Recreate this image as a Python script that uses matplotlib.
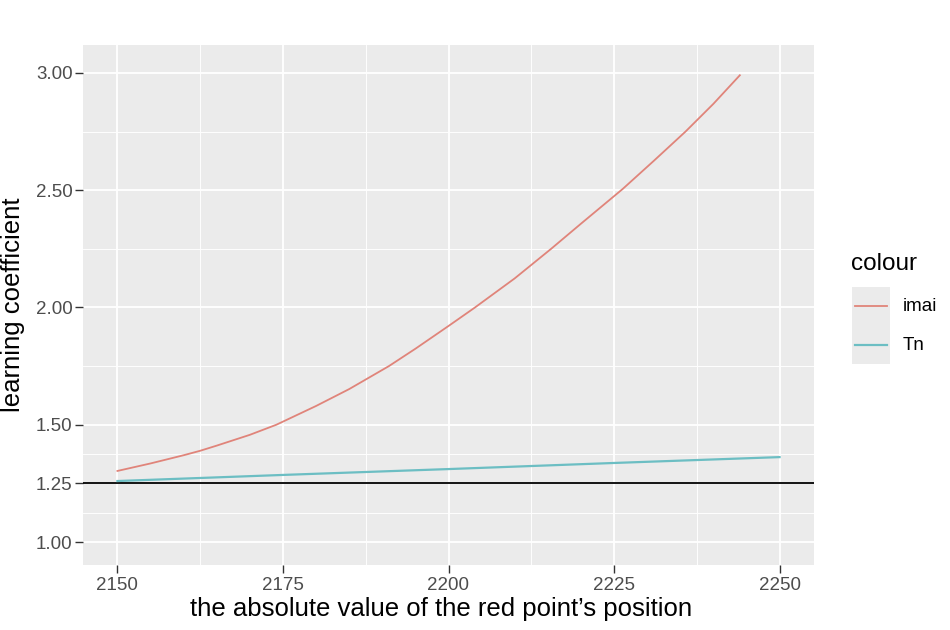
import numpy as np
import matplotlib.pyplot as plt

plt.rcParams['font.family'] = ['Liberation Sans', 'DejaVu Sans']

# imai curve
imai_x = [2150, 2155, 2160, 2162.5, 2165, 2170, 2174, 2180, 2185, 2191,
          2195, 2200, 2204, 2210, 2215.5, 2220, 2226.3, 2231, 2235.8, 2240, 2244]
imai_y = [1.303, 1.335, 1.370, 1.389, 1.411, 1.457, 1.500, 1.580, 1.652, 1.750,
          1.824, 1.921, 2.000, 2.124, 2.250, 2.357, 2.505, 2.625, 2.750, 2.868, 2.990]

# Tn line
tn_x = [2150, 2175, 2200, 2225, 2250]
tn_y = [1.260, 1.286, 1.311, 1.337, 1.362]

ref_level = 1.25
y_ticks = [1.00, 1.25, 1.50, 2.00, 2.50, 3.00]
y_minor = [1.125, 1.375, 1.75, 2.25, 2.75]
x_ticks = [2150, 2175, 2200, 2225, 2250]
x_minor = [2162.5, 2187.5, 2212.5, 2237.5]

imai_col = "#E0847A"
tn_col = "#6CBEC3"

fig = plt.figure(figsize=(9.5, 6.3), dpi=100)
ax = fig.add_axes([83/950, 1 - 565/630, (814 - 83)/950, (565 - 45)/630])
ax.set_facecolor("#EBEBEB")
for s in ax.spines.values():
    s.set_visible(False)

ax.set_xticks(x_ticks)
ax.set_xticks(x_minor, minor=True)
ax.set_yticks(y_ticks)
ax.set_yticks(y_minor, minor=True)
ax.set_yticklabels([f"{v:.2f}" for v in y_ticks])
ax.grid(which="major", color="white", linewidth=1.3)
ax.grid(which="minor", color="white", linewidth=0.65)
ax.set_axisbelow(True)
ax.tick_params(which="major", length=5.5, width=1, color="#333333",
               labelsize=13.5, labelcolor="#4D4D4D")
ax.tick_params(axis="y", pad=2)
ax.tick_params(axis="x", pad=3)
ax.tick_params(which="minor", length=0)

ax.axhline(ref_level, color="black", linewidth=1.3)
ax.plot(imai_x, imai_y, color=imai_col, linewidth=1.3)
ax.plot(tn_x, tn_y, color=tn_col, linewidth=1.6)

ax.set_xlim(2144.8, 2255.2)
ax.set_ylim(0.902, 3.119)
ax.set_xlabel("the absolute value of the red point\u2019s position", fontsize=18.5)
ax.set_ylabel("learning coefficient", fontsize=18.5)
ax.xaxis.label.set_va("center")
ax.yaxis.label.set_va("center")
ax.xaxis.set_label_coords(0.49, (565 - 609) / 520)
ax.yaxis.set_label_coords((13 - 83) / 731, 0.5)

# legend
lax = fig.add_axes([852/950, 1 - 364/630, 38/950, 77/630])
lax.set_facecolor("#EBEBEB")
lax.set_xticks([])
lax.set_yticks([])
for s in lax.spines.values():
    s.set_visible(False)
lax.set_xlim(0, 1)
lax.set_ylim(0, 1)
lax.plot([0.08, 0.92], [0.75, 0.75], color=imai_col, linewidth=1.3)
lax.plot([0.08, 0.92], [0.25, 0.25], color=tn_col, linewidth=1.6)
fig.text(851/950, 1 - 264/630, "colour", fontsize=17.5, va="center", ha="left")
fig.text(903/950, 1 - 306/630, "imai", fontsize=13.5, va="center", ha="left")
fig.text(903/950, 1 - 345/630, "Tn", fontsize=13.5, va="center", ha="left")

fig.savefig("out.png", dpi=100)
